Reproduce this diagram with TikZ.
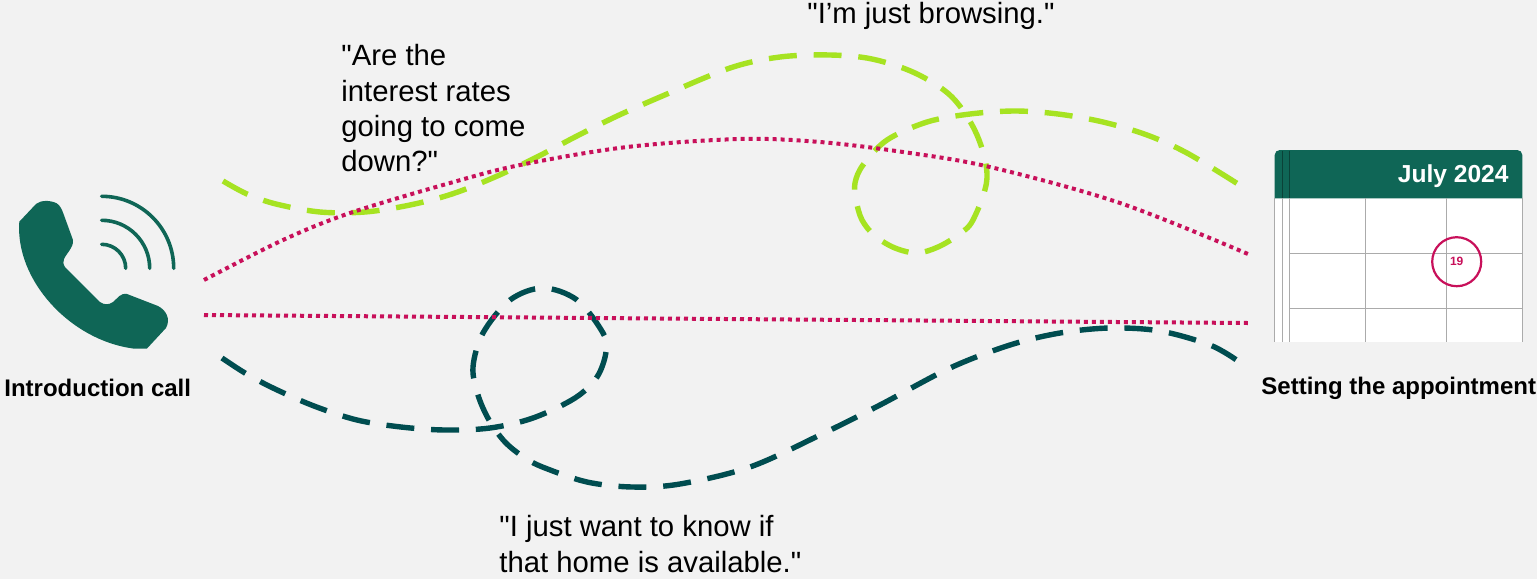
\documentclass[tikz,border=0pt]{standalone}
\usepackage{fontspec}
\setmainfont{Liberation Sans}[Ligatures=TeXOff]
\definecolor{bgc}{HTML}{F2F2F2}
\definecolor{lime}{HTML}{A6E322}
\definecolor{deepteal}{HTML}{004D50}
\definecolor{phonec}{HTML}{0F6656}
\definecolor{rosec}{HTML}{C8105A}
\definecolor{gridc}{HTML}{ABABAB}
\tikzset{
  quote/.style={anchor=north west,align=left,font=\fontsize{14.65}{17.7}\selectfont,inner sep=0pt,text=black},
  caption/.style={font=\fontsize{12}{14}\selectfont\bfseries,inner sep=0pt,text=black},
  dashline/.style={line width=2.7pt,dash pattern=on 14pt off 8.4pt,line cap=butt},
  dotline/.style={line width=2pt,dash pattern=on 2pt off 2pt,rosec},
  gridline/.style={line width=0.6pt,gridc},
  wave/.style={line width=1.8pt,phonec,line cap=round}
}
\begin{document}
\begin{tikzpicture}[x=0.5pt,y=-0.5pt]
\useasboundingbox (0,0) rectangle (1537,579);
\fill[bgc] (0,0) rectangle (1537,579);
% calendar
\fill[white] (1274.7,198) rectangle (1522.3,341.5);
\fill[phonec] (1274.7,198.3) -- (1274.7,155) arc[start angle=180,end angle=90,radius=2.5pt] -- (1517.3,150) arc[start angle=90,end angle=0,radius=2.5pt] -- (1522.3,198.3) -- cycle;
\foreach \xx in {1282.3,1289.7}{\draw[line width=0.4pt,black!35!phonec] (\xx,150.5) -- (\xx,198.3);}
\foreach \xx in {1274.7,1282.3,1289.7,1365.7,1446.7,1522.3}{\draw[gridline] (\xx,198.3) -- (\xx,341.5);}
\foreach \yy in {253.3,308.7}{\draw[gridline] (1289.7,\yy) -- (1522.3,\yy);}
\node[inner sep=0pt,anchor=east,text=white,font=\fontsize{12.3}{14}\selectfont\bfseries] (month) at (1509,176) {July 2024};
\node[circle,draw=rosec,line width=1.1pt,minimum size=24.5pt,inner sep=0pt,text=rosec,font=\fontsize{6}{7}\selectfont\bfseries] (day) at (1456.7,261.7) {\raisebox{-0.6pt}{19}};
% phone
\fill[phonec] (19.3,221.7) -- (36,204) .. controls (41,200) and (50,200) .. (56.7,203.3)
  .. controls (60,205) and (62,210) .. (63.3,213.3) -- (73,240) .. controls (74,247) and (66,254) .. (64,259)
  .. controls (63,262) and (63,264) .. (65,267) -- (100,302) .. controls (104,305) and (109,305) .. (113,302)
  .. controls (118,298) and (120,293) .. (127,294) -- (158,306) .. controls (166,310) and (171,319) .. (166,328)
  -- (147,348.5) -- (133,348.5) .. controls (70,340) and (15,280) .. (19.3,221.7) -- cycle;
\draw[wave] (101.7,244.3) arc[start angle=90,end angle=0,radius=12pt];
\draw[wave] (101.7,220.3) arc[start angle=90,end angle=0,radius=24pt];
\draw[wave] (101.7,196.3) arc[start angle=90,end angle=0,radius=36pt];
% curves
\draw[dashline,lime] plot[smooth,tension=0.55] coordinates {(223,181)(247,194)(276,204)(320,212)(365,212)(410,205)(452,194)(495,177)(535,158)(575,137)(615,117)(660,97)(730,68)(780,57)(830,55)(872,59)(915,73)(952,97)(977,135)(987,178)(973,220)(958,235)(938,247)(917,253)(895,248)(875,236)(862,220)(856,200)(855,183)(863,165)(887,140)(927,122)(970,114)(1015,111)(1058,114)(1103,122)(1147,135)(1187,153)(1238,184)};
\draw[dashline,deepteal] plot[smooth,tension=0.55] coordinates {(222,358)(245,373)(273,388)(314,406)(357,420)(401,427)(445,430)(490,428)(533,418)(575,398)(597,377)(606,352)(603,333)(577,300)(543,288)(510,300)(483,333)(473,367)(478,395)(489,420)(505,442)(525,458)(545,468)(587,482)(632,487)(680,484)(750,467)(820,435)(880,405)(950,368)(1010,345)(1060,333)(1110,328)(1160,331)(1210,345)(1238,361)};
\draw[dotline] plot[smooth,tension=0.55] coordinates {(204,280)(283,240)(350,213)(450,183)(520,165)(627,147)(740,139)(820,142)(903,152)(990,167)(1120,203)(1248,254)};
\coordinate (midL) at (204,315);
\coordinate (midR) at (1248,323);
\draw[dotline] (midL) -- (midR);
% text
\node[quote] (q1) at (341,44) {"Are the\\interest rates\\going to come\\down?"};
\node[quote] (q2) at (807,2) {"I’m just browsing."};
\node[quote] (q3) at (499,515) {"I just want to know if\\that home is available."};
\node[caption,anchor=west] (c1) at (4,388) {Introduction call};
\node[caption,anchor=west] (c2) at (1261,388) {Setting the appointment};
\end{tikzpicture}
\end{document}
